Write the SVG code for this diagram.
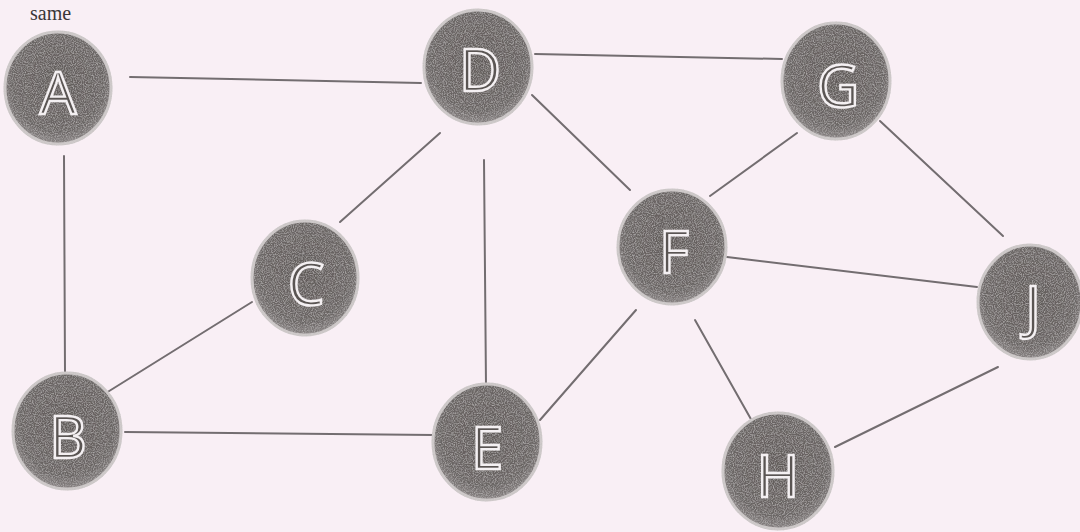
<svg xmlns="http://www.w3.org/2000/svg" width="1080" height="532" viewBox="0 0 1080 532">
<defs>
<radialGradient id="ng" cx="50%" cy="45%" r="55%">
<stop offset="0" stop-color="#615b59"/>
<stop offset="0.8" stop-color="#6b6665"/>
<stop offset="1" stop-color="#8a8585"/>
</radialGradient>
<filter id="tex" x="-10%" y="-10%" width="120%" height="120%">
<feTurbulence type="fractalNoise" baseFrequency="0.9" numOctaves="2" seed="3" result="n"/>
<feColorMatrix in="n" type="matrix" values="0 0 0 0 0.55  0 0 0 0 0.53  0 0 0 0 0.53  0 0 0 1.4 -0.55" result="c"/>
<feComposite in="c" in2="SourceGraphic" operator="in" result="t"/>
<feMerge><feMergeNode in="SourceGraphic"/><feMergeNode in="t"/></feMerge>
</filter>
</defs>
<style>
.bg{fill:#f9eff5}
.edge{stroke:#736d70;stroke-width:2;fill:none;stroke-linecap:round}
.node ellipse{fill:url(#ng);stroke:#cfcaca;stroke-width:3}
.node text{font-family:"Open Sans","Liberation Sans",sans-serif;font-size:58px;fill:#5a5553;stroke:#f4f0f2;stroke-width:2.4;text-anchor:middle;dominant-baseline:central}
.cap{font-family:"Liberation Serif",serif;font-size:20px;fill:#3a3638}
</style>
<rect class="bg" x="0" y="0" width="1080" height="532"/>
<text class="cap" x="30" y="20">same</text>
<g id="connectors">
<line class="edge" x1="130" y1="77" x2="421" y2="83"/>
<line class="edge" x1="535" y1="54" x2="782" y2="59"/>
<line class="edge" x1="64" y1="156" x2="65" y2="372"/>
<line class="edge" x1="440" y1="133" x2="340" y2="222"/>
<line class="edge" x1="484" y1="160" x2="486" y2="385"/>
<line class="edge" x1="532" y1="95" x2="630" y2="190"/>
<line class="edge" x1="797" y1="133" x2="710" y2="196"/>
<line class="edge" x1="880" y1="121" x2="1003" y2="236"/>
<line class="edge" x1="727" y1="257" x2="977" y2="287"/>
<line class="edge" x1="252" y1="302" x2="106" y2="393"/>
<line class="edge" x1="125" y1="432" x2="434" y2="435"/>
<line class="edge" x1="636" y1="310" x2="540" y2="420"/>
<line class="edge" x1="695" y1="320" x2="752" y2="421"/>
<line class="edge" x1="998" y1="367" x2="835" y2="447"/>
</g>
<g id="node-A" class="node"><ellipse cx="58" cy="88" rx="53" ry="56" filter="url(#tex)"/><text x="58" y="91">A</text></g>
<g id="node-D" class="node"><ellipse cx="478" cy="67" rx="54" ry="57" filter="url(#tex)"/><text x="480" y="68">D</text></g>
<g id="node-G" class="node"><ellipse cx="836" cy="81" rx="54" ry="58" filter="url(#tex)"/><text x="838" y="84">G</text></g>
<g id="node-C" class="node"><ellipse cx="305" cy="278" rx="53" ry="57" filter="url(#tex)"/><text x="306" y="282">C</text></g>
<g id="node-F" class="node"><ellipse cx="672" cy="247" rx="54" ry="57" filter="url(#tex)"/><text x="674" y="250">F</text></g>
<g id="node-J" class="node"><ellipse cx="1030" cy="302" rx="52" ry="57" filter="url(#tex)"/><text x="1033" y="305">J</text></g>
<g id="node-B" class="node"><ellipse cx="67" cy="431" rx="54" ry="58" filter="url(#tex)"/><text x="68" y="435">B</text></g>
<g id="node-E" class="node"><ellipse cx="487" cy="442" rx="54" ry="58" filter="url(#tex)"/><text x="487" y="446">E</text></g>
<g id="node-H" class="node"><ellipse cx="778" cy="471" rx="55" ry="58" filter="url(#tex)"/><text x="778" y="474">H</text></g>
</svg>
